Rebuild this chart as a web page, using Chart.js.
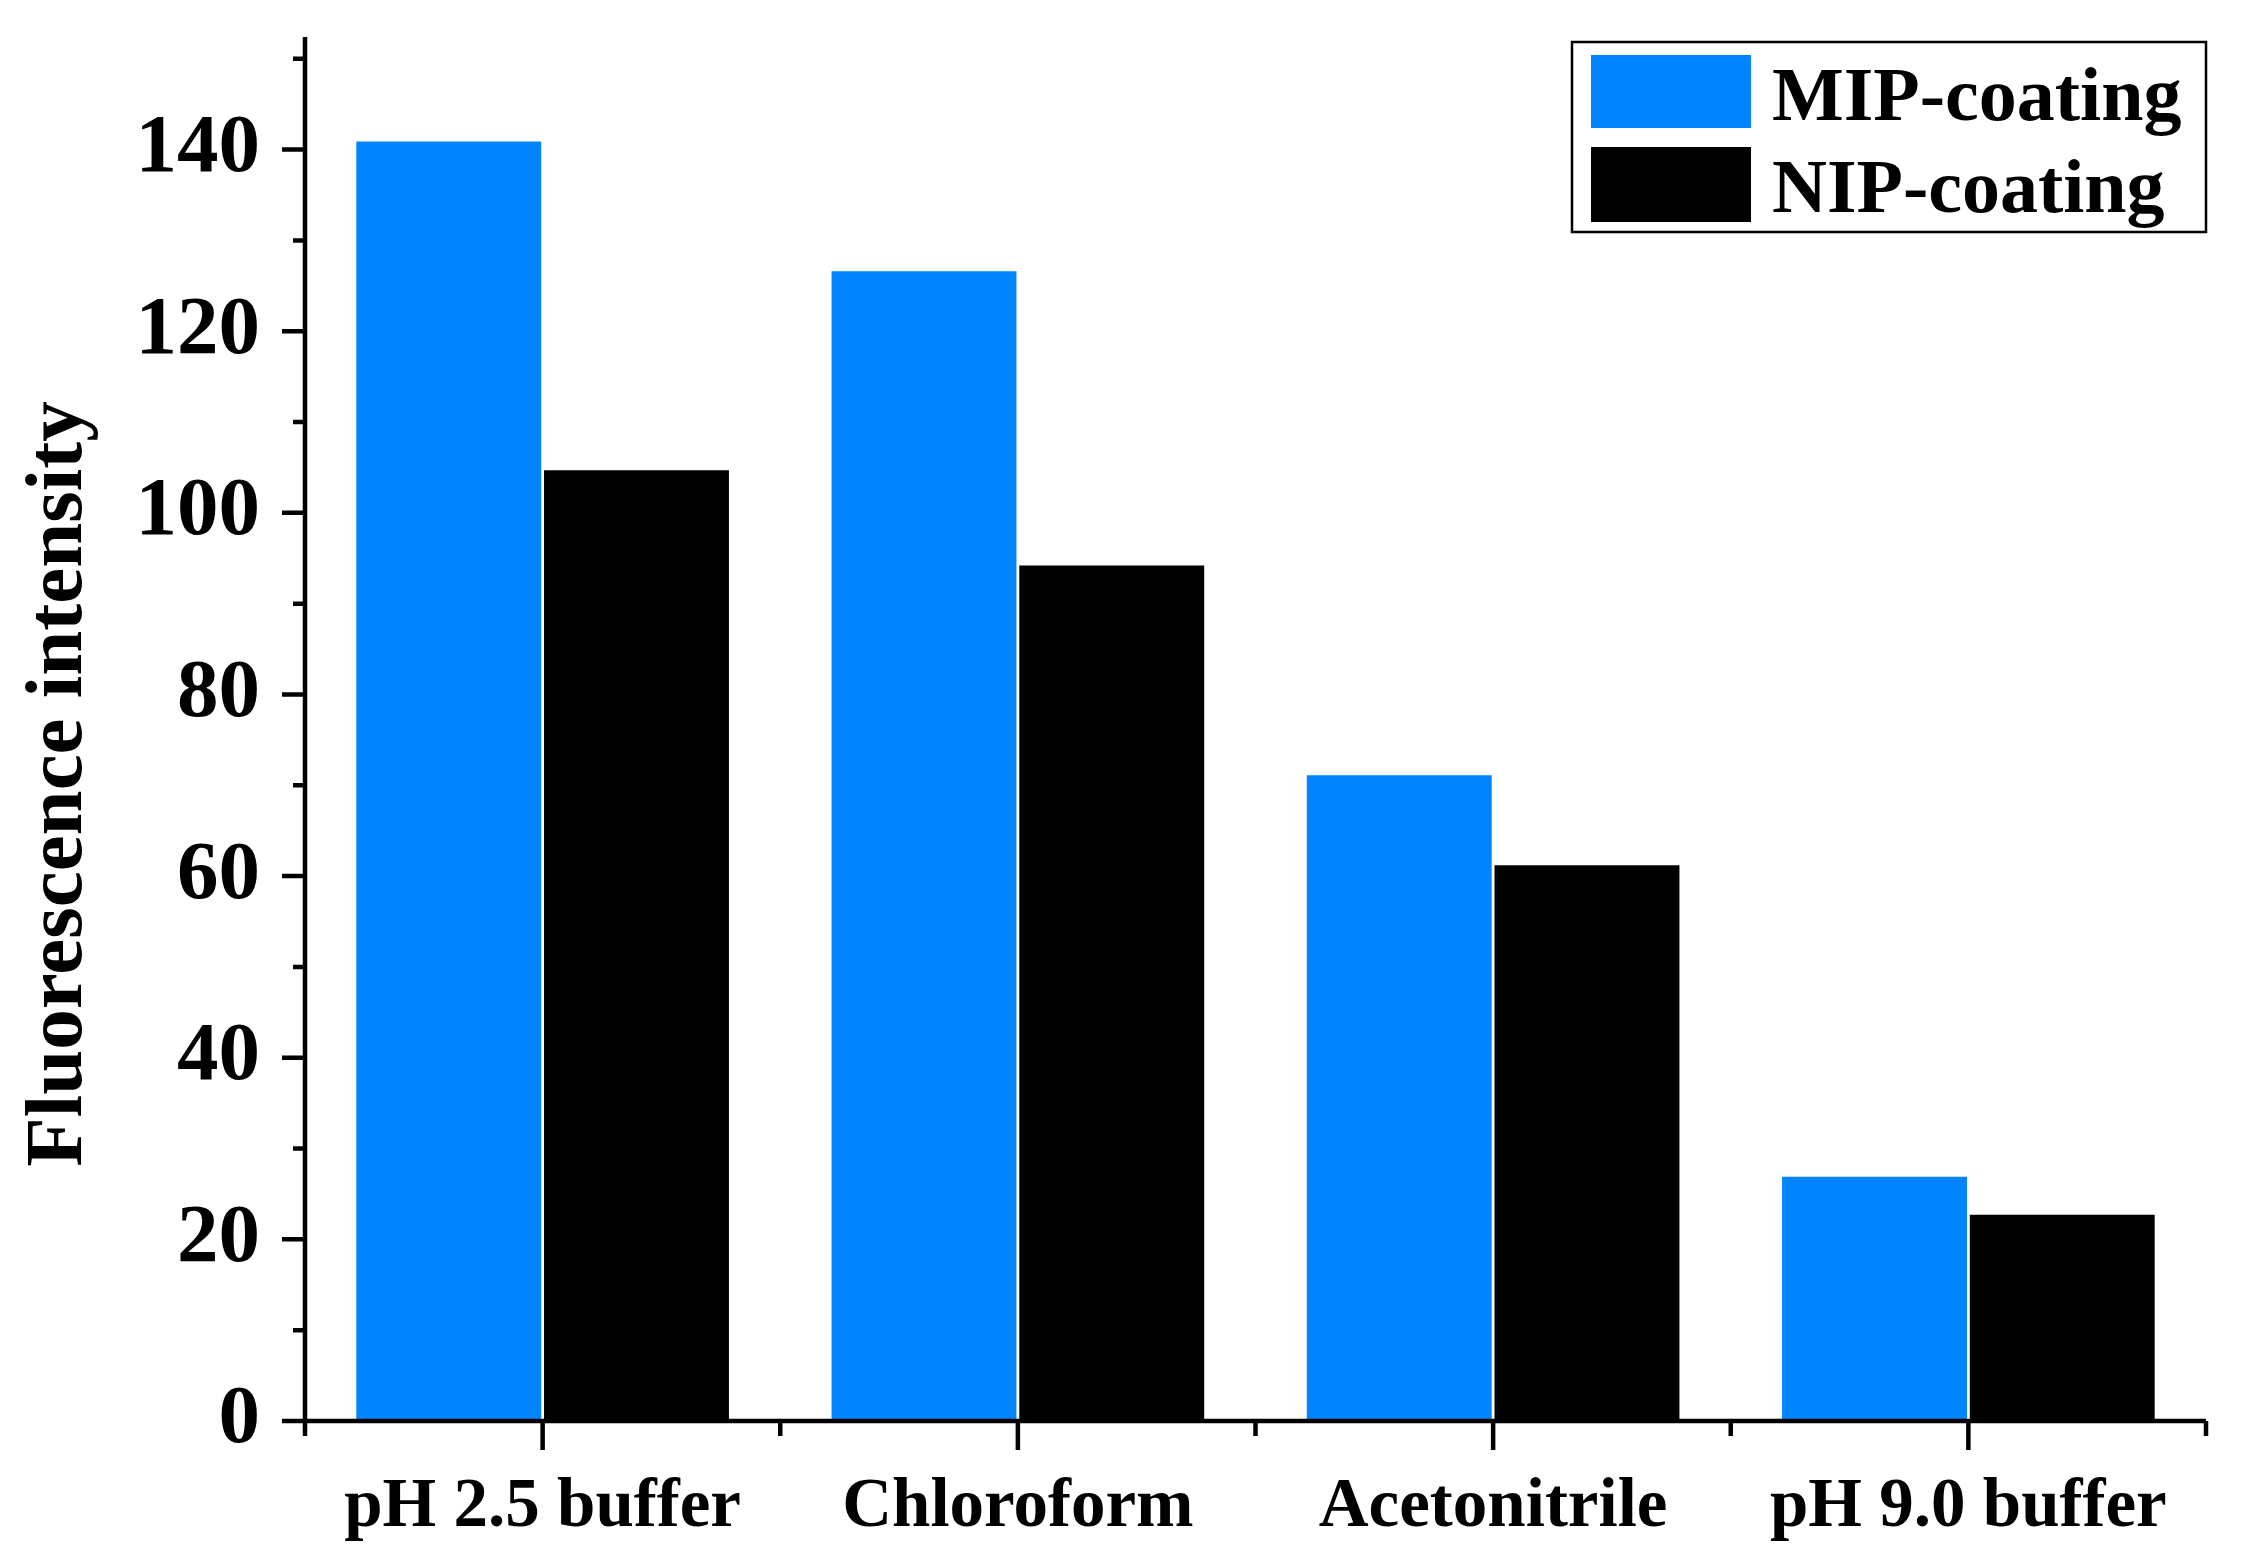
<!DOCTYPE html>
<html>
<head>
<meta charset="utf-8">
<script src="https://cdn.jsdelivr.net/npm/chart.js@4/dist/chart.umd.min.js"></script>
<style>
html,body{margin:0;padding:0;background:#fff;}
canvas{display:block;}
</style>
</head>
<body>
<canvas id="c" width="2261" height="1566"></canvas>
<script>
const categories = ["pH 2.5 buffer", "Chloroform", "Acetonitrile", "pH 9.0 buffer"];
const seriesNames = ["MIP-coating", "NIP-coating"];
const mipValues = [140.9, 126.6, 71.1, 26.9];
const nipValues = [104.7, 94.2, 61.2, 22.7];
const yTitle = "Fluorescence intensity";
const yMin = 0, yMax = 152.4, yStep = 20;

const FONT = "'Liberation Serif', 'Times New Roman', serif";

const axesPlugin = {
  id: 'axesPlugin',
  afterDraw(chart) {
    const ctx = chart.ctx;
    const ca = chart.chartArea;
    const xs = chart.scales.x, ys = chart.scales.y;
    ctx.save();
    ctx.strokeStyle = '#000';
    ctx.lineWidth = 4.5;
    ctx.lineCap = 'butt';
    ctx.beginPath();
    ctx.moveTo(ca.left, ca.top);
    ctx.lineTo(ca.left, ca.bottom + 2);
    ctx.moveTo(ca.left - 2, ca.bottom);
    ctx.lineTo(ca.right, ca.bottom);
    ctx.stroke();
    ctx.beginPath();
    const ticks = ys.ticks.map(t => t.value);
    ticks.forEach(v => {
      const y = ys.getPixelForValue(v);
      ctx.moveTo(ca.left - 23, y); ctx.lineTo(ca.left, y);
    });
    for (let i = 0; i < ticks.length; i++) {
      const v = ticks[i] + yStep / 2;
      if (v <= yMax) {
        const y = ys.getPixelForValue(v);
        ctx.moveTo(ca.left - 12, y); ctx.lineTo(ca.left, y);
      }
    }
    const n = categories.length;
    const w = (xs.getPixelForTick(n - 1) - xs.getPixelForTick(0)) / (n - 1);
    for (let i = 0; i < n; i++) {
      const x = xs.getPixelForTick(i);
      ctx.moveTo(x, ca.bottom); ctx.lineTo(x, ca.bottom + 29);
      const b = x - w / 2;
      ctx.moveTo(b, ca.bottom); ctx.lineTo(b, ca.bottom + 15);
    }
    const last = xs.getPixelForTick(n - 1) + w / 2;
    ctx.moveTo(last, ca.bottom); ctx.lineTo(last, ca.bottom + 15);
    ctx.stroke();

    ctx.fillStyle = '#000';
    ctx.font = 'bold 81px ' + FONT;
    ctx.textAlign = 'center';
    ctx.textBaseline = 'middle';
    ctx.translate(60, 784);
    ctx.rotate(-Math.PI / 2);
    ctx.fillText(yTitle, 0, 0);
    ctx.restore();

    ctx.save();
    const bx = 1572, by = 42, bw = 634, bh = 190;
    ctx.fillStyle = '#fff';
    ctx.fillRect(bx, by, bw, bh);
    ctx.strokeStyle = '#000';
    ctx.lineWidth = 2.5;
    ctx.strokeRect(bx, by, bw, bh);
    const sw = [[55, 128, 120], [147, 222, 212]];
    chart.data.datasets.forEach((ds, i) => {
      ctx.fillStyle = ds.backgroundColor;
      ctx.fillRect(1591, sw[i][0], 160, sw[i][1] - sw[i][0]);
      ctx.fillStyle = '#000';
      ctx.font = 'bold 76px ' + FONT;
      ctx.textAlign = 'left';
      ctx.textBaseline = 'alphabetic';
      ctx.fillText(ds.label, 1772, sw[i][2]);
    });
    ctx.restore();
  }
};

new Chart(document.getElementById('c'), {
  type: 'bar',
  data: {
    labels: categories,
    datasets: [
      { label: seriesNames[0], data: mipValues, backgroundColor: '#0085ff', borderWidth: 0 },
      { label: seriesNames[1], data: nipValues, backgroundColor: '#000000', borderWidth: 0 }
    ]
  },
  options: {
    responsive: false,
    devicePixelRatio: 1,
    animation: false,
    categoryPercentage: 0.79,
    barPercentage: 0.985,
    layout: { padding: { left: 0, top: 37, right: 55, bottom: 0 } },
    plugins: { legend: { display: false }, title: { display: false }, tooltip: { enabled: false } },
    scales: {
      x: {
        grid: { display: false, drawTicks: false },
        border: { display: false },
        ticks: { color: '#000', padding: 46, font: { family: FONT, size: 69, weight: 'bold' }, maxRotation: 0, autoSkip: false },
        afterFit(s) { s.height = 145; s.paddingLeft = 0; s.paddingRight = 0; }
      },
      y: {
        min: yMin, max: yMax,
        grid: { display: false, drawTicks: false },
        border: { display: false },
        ticks: { stepSize: yStep, includeBounds: false, color: '#000', padding: 45, font: { family: FONT, size: 83, weight: 'bold' } },
        afterFit(s) { s.width = 305; s.paddingTop = 0; s.paddingBottom = 0; }
      }
    }
  },
  plugins: [axesPlugin]
});
</script>
</body>
</html>
